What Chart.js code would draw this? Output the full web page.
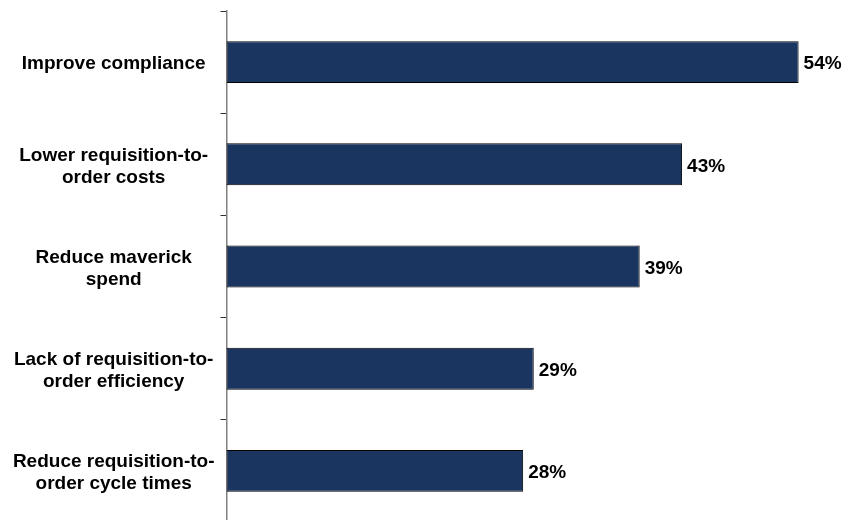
<!DOCTYPE html>
<html>
<head>
<meta charset="utf-8">
<script src="https://cdn.jsdelivr.net/npm/chart.js@4/dist/chart.umd.min.js"></script>
<style>
  html, body { margin: 0; padding: 0; background: #fff; overflow: hidden; }
  #wrap { width: 843px; height: 520px; overflow: hidden; }
</style>
</head>
<body>
<div id="wrap"><canvas id="c" width="843" height="522"></canvas></div>
<script>
const categories = [
  ["Improve compliance"],
  ["Lower requisition-to-", "order costs"],
  ["Reduce maverick", "spend"],
  ["Lack of requisition-to-", "order efficiency"],
  ["Reduce requisition-to-", "order cycle times"]
];
const values = [54, 43, 39, 29, 28];
const valueLabels = ["54%", "43%", "39%", "29%", "28%"];

const FONT = "'Liberation Sans', Arial, Helvetica, sans-serif";

const valuePlugin = {
  id: 'valueLabels',
  afterDatasetsDraw(chart) {
    const ctx = chart.ctx;
    const meta = chart.getDatasetMeta(0);
    ctx.save();
    ctx.font = "bold 19px " + FONT;
    ctx.fillStyle = "#000";
    ctx.textAlign = "left";
    ctx.textBaseline = "middle";
    meta.data.forEach((bar, i) => {
      ctx.fillText(valueLabels[i], bar.x + 5, bar.y + 2);
    });
    ctx.restore();
  }
};

new Chart(document.getElementById('c'), {
  type: 'bar',
  data: {
    labels: categories,
    datasets: [{
      data: values,
      backgroundColor: '#1b3561',
      borderColor: '#000000',
      borderWidth: 1,
      borderSkipped: false,
      categoryPercentage: 1,
      barPercentage: 0.41
    }]
  },
  options: {
    indexAxis: 'y',
    responsive: false,
    animation: false,
    layout: { padding: { top: 11, right: 2, bottom: 0, left: 0 } },
    plugins: { legend: { display: false }, tooltip: { enabled: false } },
    scales: {
      x: {
        display: false,
        min: 0,
        max: 58
      },
      y: {
        afterFit(scale) {
          scale.width = 226.5;
          scale.paddingTop = 0;
          scale.paddingBottom = 0;
        },
        grid: {
          drawOnChartArea: false,
          drawTicks: true,
          tickLength: 6,
          color: '#333333',
          offset: true
        },
        border: { display: true, color: '#808080', width: 1.5 },
        ticks: {
          color: '#000',
          padding: 6,
          labelOffset: 2,
          crossAlign: 'center',
          font: { family: FONT, size: 19, weight: 'bold', lineHeight: 1.16 }
        }
      }
    }
  },
  plugins: [valuePlugin]
});
</script>
</body>
</html>
